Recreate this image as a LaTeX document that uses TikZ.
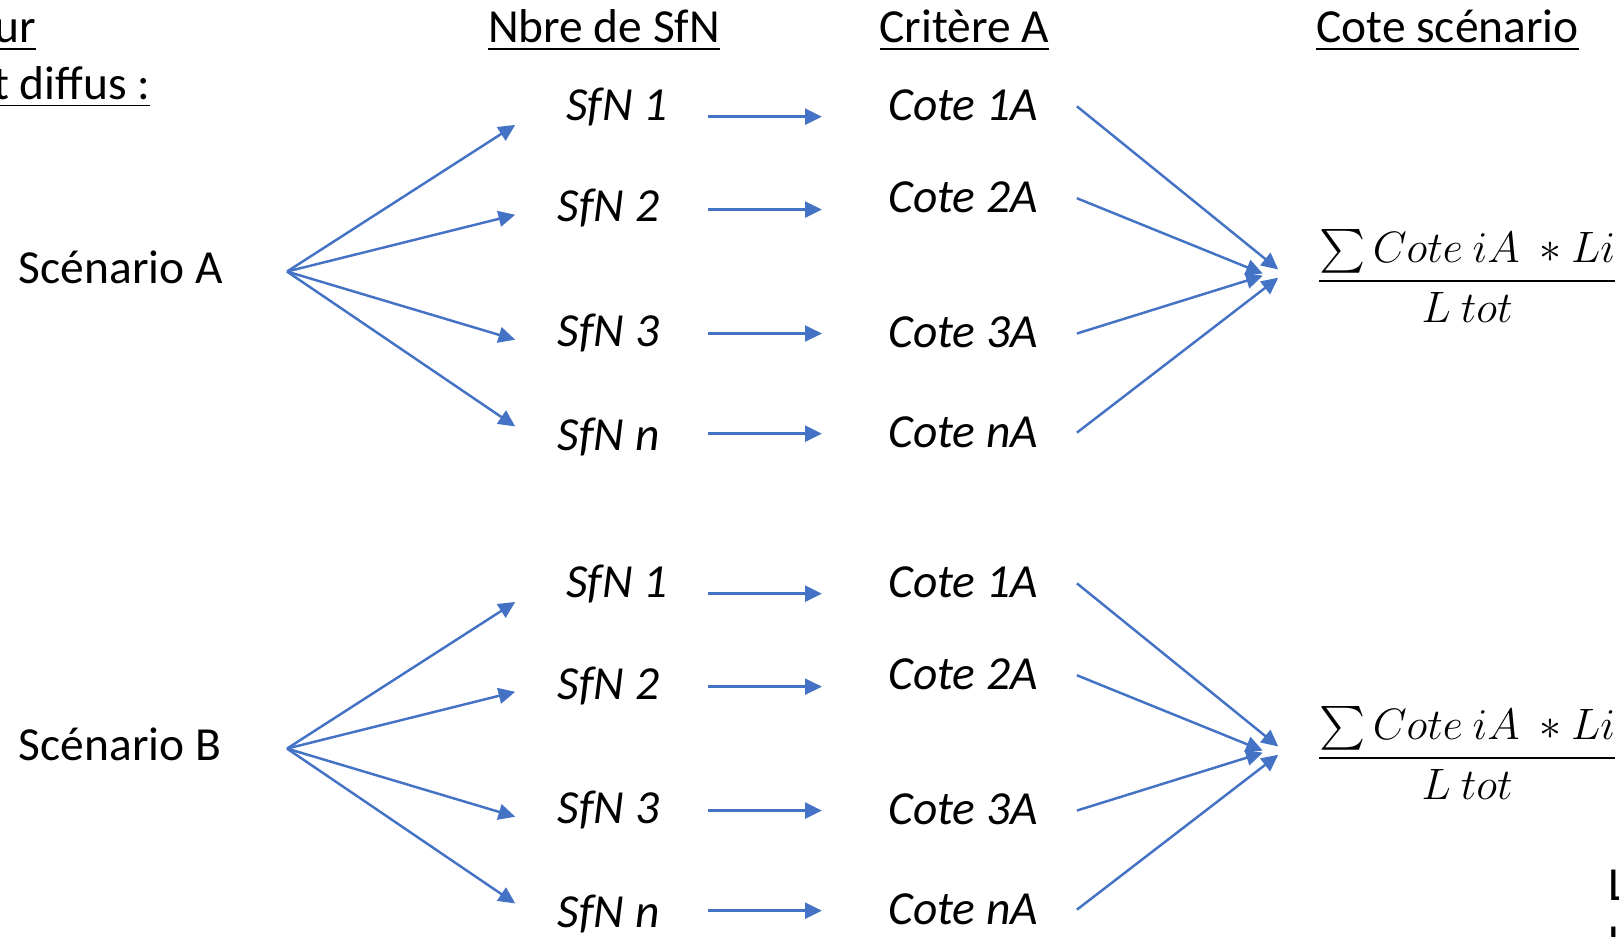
\RequirePackage{fix-cm}
\documentclass[tikz,border=0pt]{standalone}
\usepackage{amsmath}
\usepackage{fontspec}
\setmainfont{Carlito}
\usetikzlibrary{arrows.meta}
\definecolor{flowblue}{HTML}{4472C4}
\tikzset{
  txt/.style={font=\fontsize{27}{32}\selectfont, inner sep=0pt},
  itxt/.style={txt, font=\fontsize{27}{32}\selectfont\itshape},
  mtxt/.style={txt, font=\fontsize{25}{30}\selectfont},
  flow/.style={draw=flowblue, line width=1.4pt, -{Triangle[length=9.5pt,width=9pt]}}
}
\begin{document}
\begin{tikzpicture}[x=0.02065cm, y=-0.02065cm]
    \useasboundingbox (0,0) rectangle (1568,907);
    \clip (0,0) rectangle (1568,907);
    % headers
    \node[txt, anchor=base east] (hd1) at (35,41) {\underline{ur}};
    \node[txt, anchor=base east] (hd2) at (146,96) {\underline{t diffus :}};
    \node[txt, anchor=base] (hsfn) at (585,41) {\underline{Nbre de SfN}};
    \node[txt, anchor=base] (hcrit) at (934,41) {\underline{Critère A}};
    \node[txt, anchor=base] (hcote) at (1402,41) {\underline{Cote scénario}};
    % one block per scenario
    \foreach \sc/\dy in {A/0, B/462} {
        \node[txt, anchor=base west] (sc\sc) at (18,275+\dy) {Scénario \sc};
        \coordinate (fan\sc) at (278,263+\dy);
        \node[mtxt] (frac\sc) at (1421,267+\dy) {$\displaystyle\frac{\sum Cote\ iA\ \ast Li}{L\ tot}$};
        \foreach \i/\xs/\ys/\yt/\yh/\yc/\ycs/\xe/\ye in
            {1/548/117/121/113/117/103/1238/261,
             2/540/215/208/203/206/192/1223/265,
             3/540/336/329/323/337/323/1223/267,
             n/540/436/413/420/433/419/1238/269} {
            \node[itxt, anchor=base west] (sfn\sc\i) at (\xs,\ys+\dy) {SfN \i};
            \node[itxt, anchor=base west] (cote\sc\i) at (860,\yc+\dy) {Cote \i A};
            \coordinate (tip\sc\i) at (499,\yt+\dy);
            \coordinate (out\sc\i) at (686,\yh+\dy);
            \coordinate (in\sc\i) at (796,\yh+\dy);
            \coordinate (from\sc\i) at (1043,\ycs+\dy);
            \coordinate (to\sc\i) at (\xe,\ye+\dy);
            \draw[flow] (fan\sc) -- (tip\sc\i);
            \draw[flow] (out\sc\i) -- (in\sc\i);
            \draw[flow] (from\sc\i) -- (to\sc\i);
        }
    }
    \node[txt, anchor=base west] (lnote1) at (1557,872) {L};
    \node[txt, anchor=base west] (lnote2) at (1557,927) {L};
\end{tikzpicture}
\end{document}
